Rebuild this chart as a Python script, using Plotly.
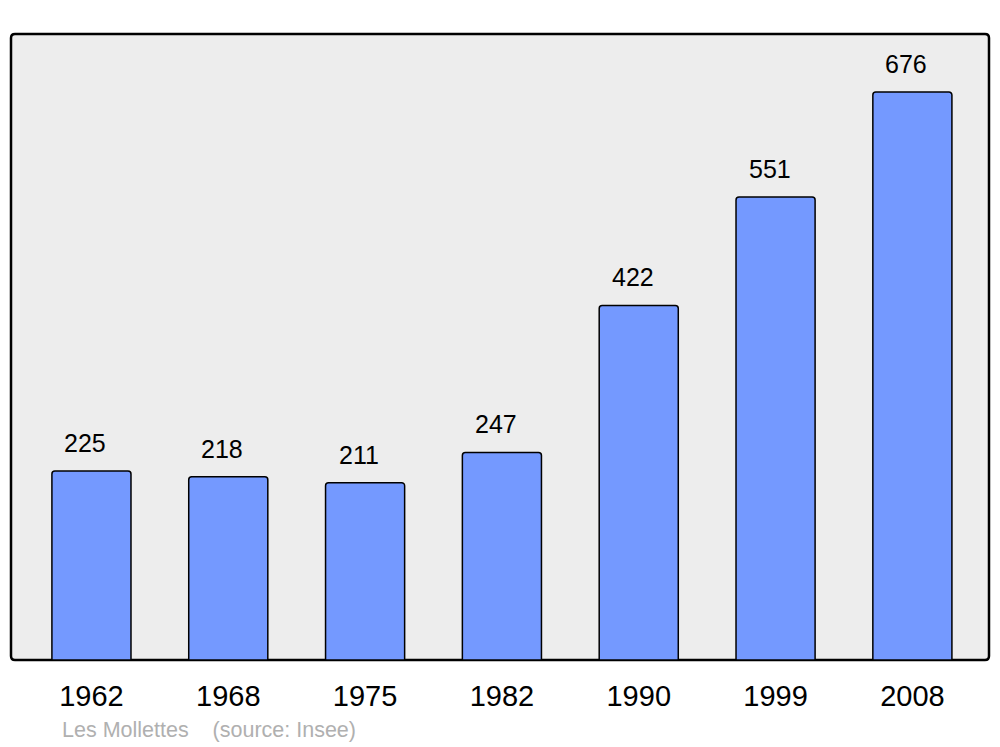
import plotly.graph_objects as go

years = ["1962", "1968", "1975", "1982", "1990", "1999", "2008"]
population = [225, 218, 211, 247, 422, 551, 676]
caption = "Les Mollettes    (source: Insee)"

# page has an 8px body margin, so the figure is offset by 8px
W, H = 992, 739
ml, mr, mt, mb = 3, 11, 26, 87
pw, ph = W - ml - mr, H - mt - mb

fig = go.Figure()
fig.add_trace(go.Bar(
    x=list(range(len(years))), y=population,
    width=0.578,
    marker=dict(color="#7499ff", line=dict(color="#000000", width=1.5), cornerradius=3),
    hoverinfo="skip",
))

for i, v in enumerate(population):
    fig.add_annotation(x=i, y=v, text=str(v), showarrow=False, yanchor="middle",
                       yshift=28, xshift=-6,
                       font=dict(size=25, color="#000000", family="Liberation Sans"))

rx, ry = 4 / pw, 4 / ph
path = (f"M {rx},0 L {1-rx},0 Q 1,0 1,{ry} L 1,{1-ry} Q 1,1 {1-rx},1 "
        f"L {rx},1 Q 0,1 0,{1-ry} L 0,{ry} Q 0,0 {rx},0 Z")
fig.add_shape(type="path", path=path, xref="paper", yref="paper",
              fillcolor="#ededed", line=dict(color="#000000", width=2.5), layer="below")

fig.add_annotation(x=(60 - 11) / pw, y=(34 + ph - 730) / ph, xref="paper", yref="paper",
                   text=caption, showarrow=False, xanchor="left", yanchor="middle",
                   font=dict(size=21.5, color="#b0b0b0", family="Liberation Sans"))

fig.update_layout(
    width=W, height=H,
    margin=dict(l=ml, r=mr, t=mt, b=mb),
    paper_bgcolor="#ffffff", plot_bgcolor="rgba(0,0,0,0)",
    showlegend=False,
    xaxis=dict(range=[-0.588, 6.56], tickmode="array", tickvals=list(range(len(years))),
               ticktext=years, showgrid=False, zeroline=False, showline=False,
               ticks="outside", ticklen=10, tickcolor="rgba(0,0,0,0)",
               tickfont=dict(size=29, color="#000000", family="Liberation Sans"), fixedrange=True),
    yaxis=dict(range=[0, 745], showgrid=False, zeroline=False, showline=False,
               showticklabels=False, fixedrange=True),
)

fig.write_html("out.html")
